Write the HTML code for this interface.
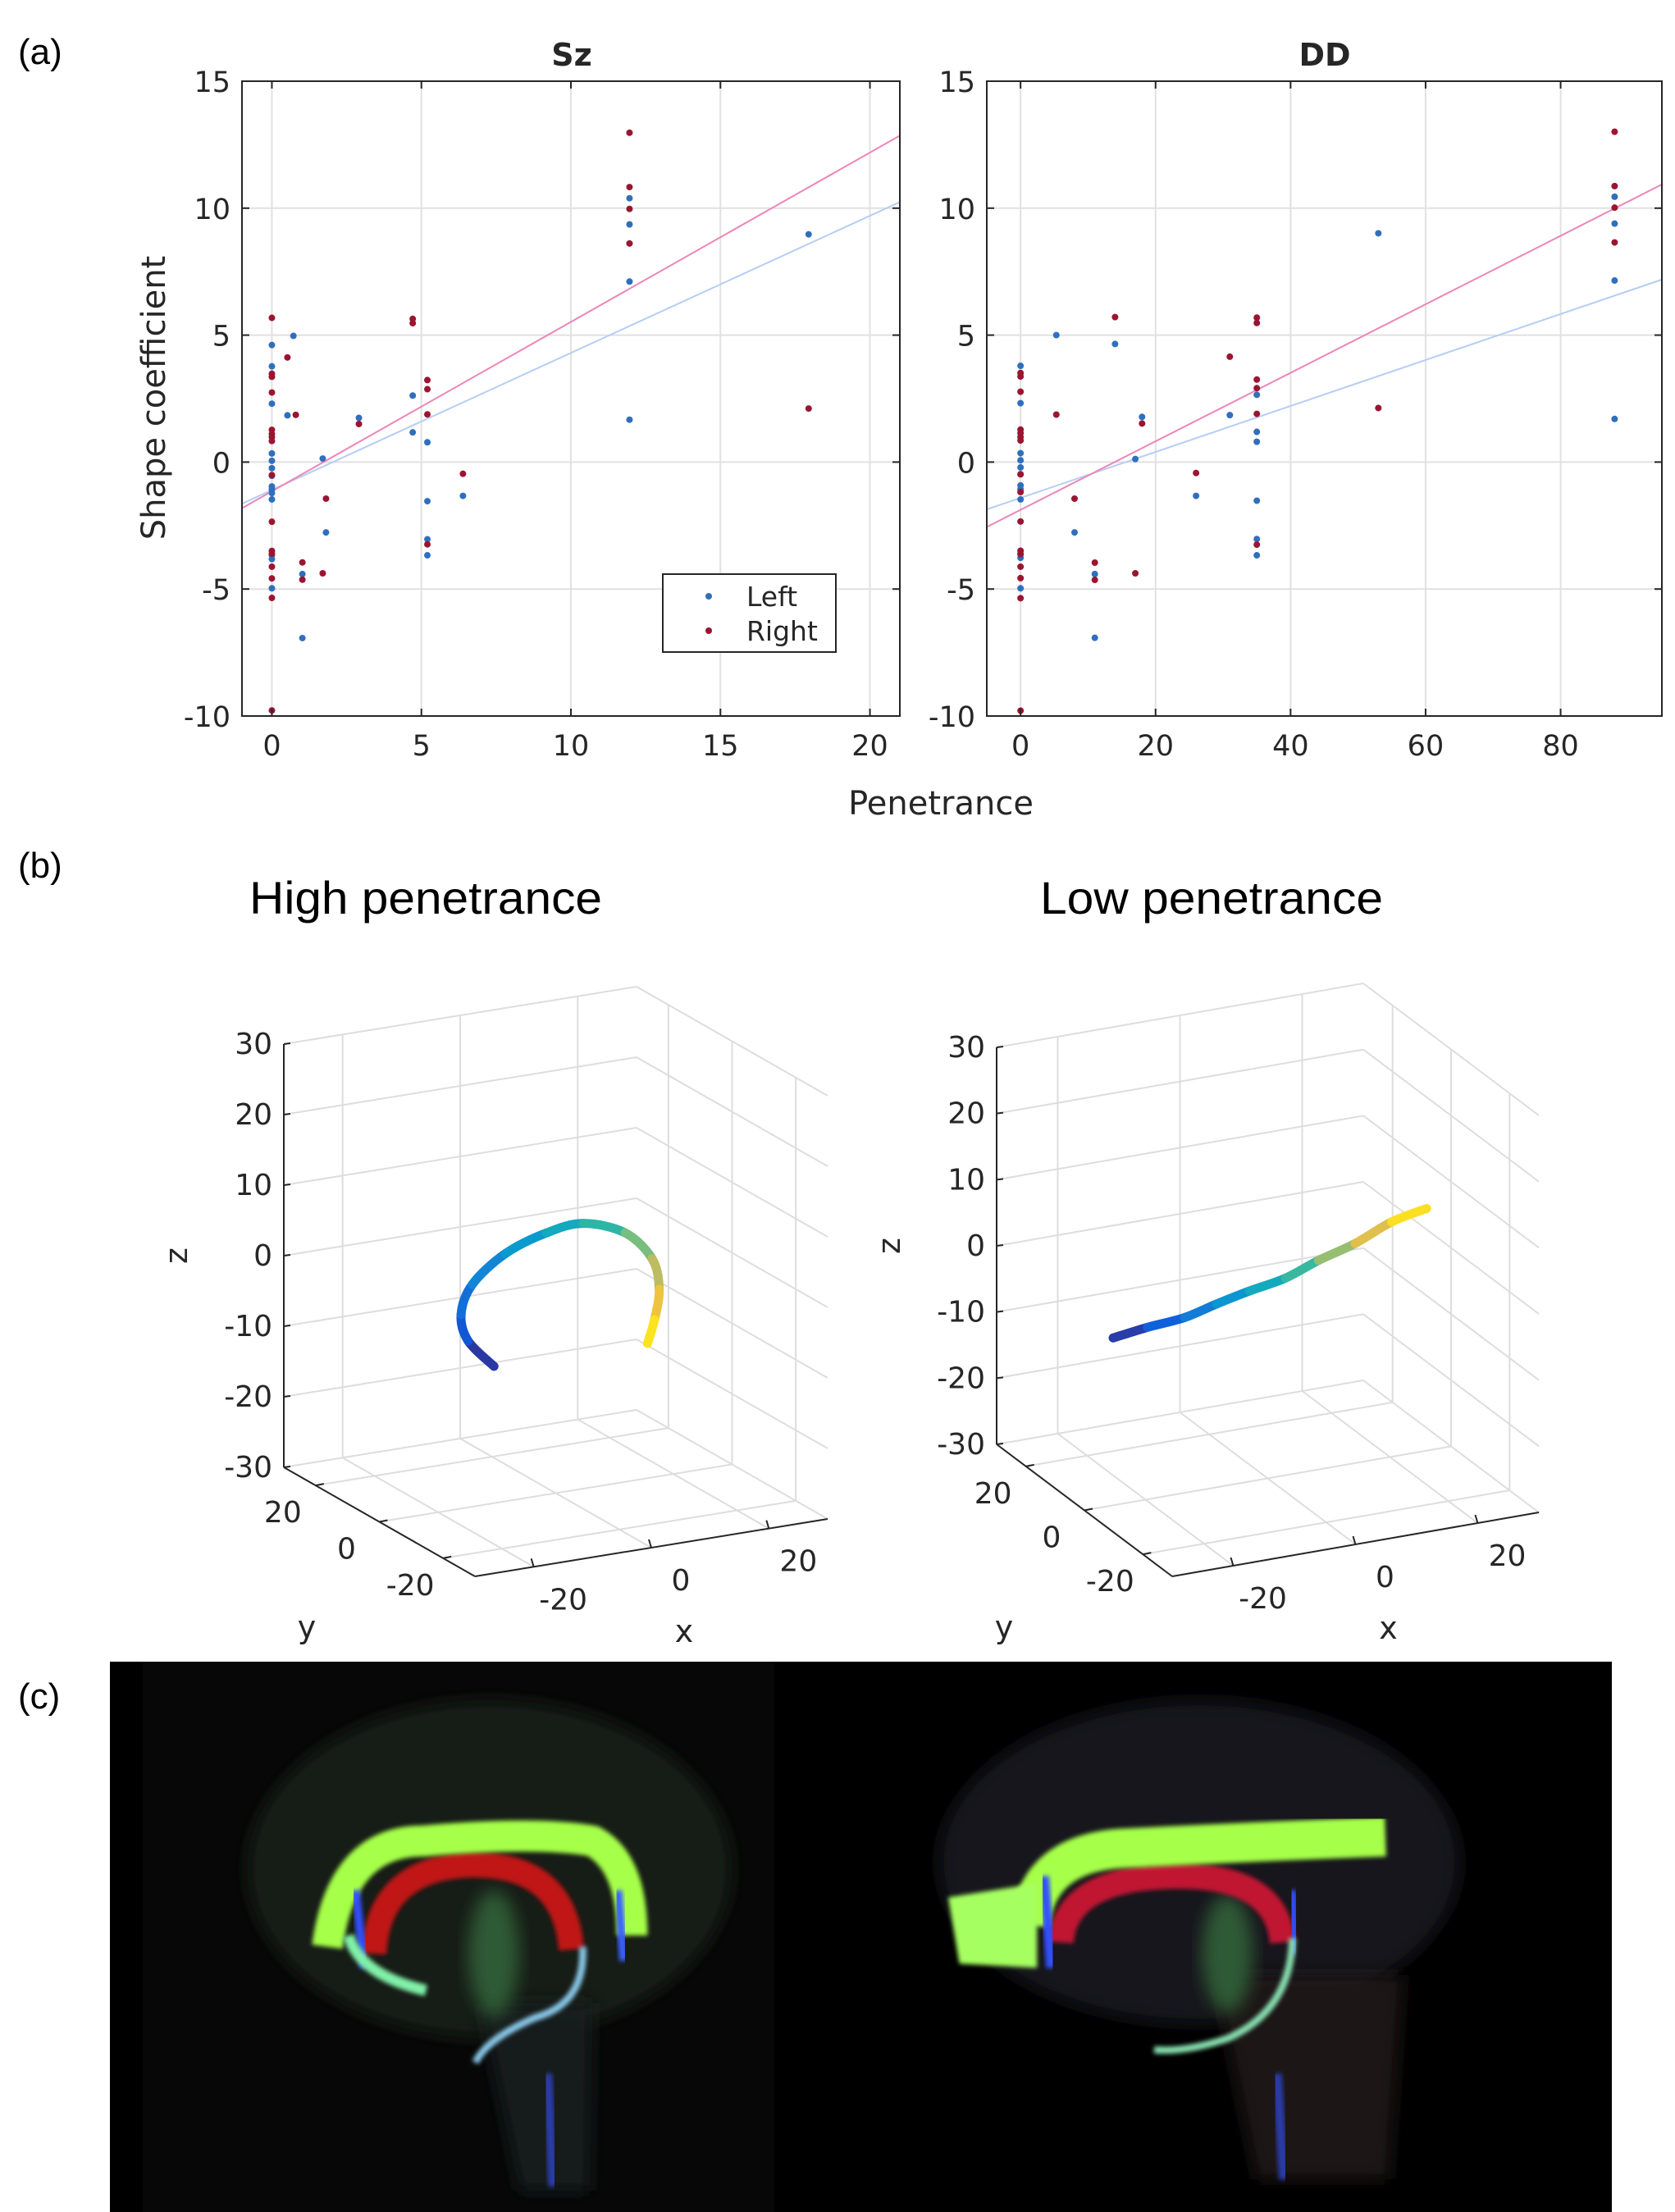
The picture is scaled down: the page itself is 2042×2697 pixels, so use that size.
<!DOCTYPE html>
<html><head><meta charset="utf-8">
<style>
html,body{margin:0;padding:0;background:#fff;}
svg{display:block;}
text{font-family:"DejaVu Sans","Liberation Sans",sans-serif;fill:#262626;}
.cal{font-family:"Liberation Sans",sans-serif;fill:#000;}
</style></head>
<body>
<svg id="fig" width="2042" height="2697" viewBox="0 0 2042 2697" xmlns="http://www.w3.org/2000/svg">
<defs>
 <filter id="blur6" x="-20%" y="-20%" width="140%" height="140%"><feGaussianBlur stdDeviation="6"/></filter>
 <filter id="blur3" x="-20%" y="-20%" width="140%" height="140%"><feGaussianBlur stdDeviation="1.5"/></filter>
</defs>
<text class="cal" x="22" y="78" font-size="44">(a)</text>
<text class="cal" x="22" y="1070" font-size="44">(b)</text>
<text class="cal" x="22" y="2083" font-size="44">(c)</text>
<text class="cal" x="304" y="1114" font-size="56" textLength="430" lengthAdjust="spacingAndGlyphs">High penetrance</text>
<text class="cal" x="1268" y="1114" font-size="56" textLength="418" lengthAdjust="spacingAndGlyphs">Low penetrance</text>
<text x="697" y="80" font-size="38" font-weight="bold" text-anchor="middle">Sz</text>
<text x="1615" y="80" font-size="38" font-weight="bold" text-anchor="middle">DD</text>
<text x="1147" y="993" font-size="40" text-anchor="middle">Penetrance</text>
<text x="0" y="0" font-size="40" text-anchor="middle" transform="translate(201,485) rotate(-90)">Shape coefficient</text>
<g id="szg"></g>
<g id="ddg"></g>
<g id="p3a"></g>
<g id="p3b"></g>

<g>
 <rect x="134" y="2026" width="1831" height="671" fill="#000"/>
 <rect x="174" y="2026" width="770" height="671" fill="#070707"/>
 <g transform="scale(1.72)">
  <g>
   <ellipse cx="347" cy="1325" rx="172" ry="120" fill="#141a12" filter="url(#blur6)"/>
   <path d="M340 1420 L420 1420 L418 1553 L368 1553 Z" fill="#151a1c" filter="url(#blur6)"/>
   <path d="M388 1470 L392 1550" stroke="#2a3aa8" stroke-width="7" filter="url(#blur3)"/>
   <ellipse cx="350" cy="1385" rx="18" ry="45" fill="#2e5a34" filter="url(#blur6)"/>
   <path d="M265 1385 Q268 1325 332 1322 Q400 1320 405 1382" stroke="#c01818" stroke-width="18" fill="none" filter="url(#blur3)"/>
   <path d="M232 1380 Q242 1305 300 1305 Q380 1298 420 1305 Q448 1320 448 1372" stroke="#a6ff48" stroke-width="22" fill="none" filter="url(#blur3)"/>
   <path d="M252 1340 L258 1395" stroke="#3050ff" stroke-width="6" filter="url(#blur3)"/>
   <path d="M247 1372 Q255 1400 302 1411" stroke="#80f0a8" stroke-width="8" fill="none" filter="url(#blur3)"/>
   <path d="M438 1340 L442 1390" stroke="#3a60ff" stroke-width="6" filter="url(#blur3)"/>
   <path d="M413 1380 Q415 1420 380 1430 Q345 1445 337 1462" stroke="#88c8e8" stroke-width="5" fill="none" filter="url(#blur3)"/>
  </g>
  <g>
   <ellipse cx="850" cy="1320" rx="185" ry="115" fill="#17161c" filter="url(#blur6)"/>
   <path d="M860 1400 L995 1400 L985 1545 L890 1545 Z" fill="#1c1414" filter="url(#blur6)"/>
   <path d="M905 1470 L910 1545" stroke="#2a3aa8" stroke-width="7" filter="url(#blur3)"/>
   <ellipse cx="870" cy="1385" rx="18" ry="42" fill="#2e5a34" filter="url(#blur6)"/>
   <path d="M752 1377 Q755 1332 830 1330 Q905 1328 909 1377" stroke="#c01830" stroke-width="18" fill="none" filter="url(#blur3)"/>
   <path d="M730 1365 Q735 1312 800 1310 Q900 1305 982 1302" stroke="#a6ff48" stroke-width="28" fill="none" filter="url(#blur3)"/>
   <path d="M672 1345 L735 1335 L735 1395 L680 1392 Z" fill="#a6ff60" filter="url(#blur3)"/>
   <path d="M740 1330 L745 1395" stroke="#3050ff" stroke-width="7" filter="url(#blur3)"/>
   <path d="M916 1340 L918 1385" stroke="#3050ff" stroke-width="6" filter="url(#blur3)"/>
   <path d="M916 1374 Q915 1425 870 1445 Q840 1455 818 1453" stroke="#88e0b0" stroke-width="5" fill="none" filter="url(#blur3)"/>
  </g>
 </g>
</g>
</svg>
<script>
// ---------- scatter data ----------
const szLeftX = [0,0,0,0,0,0,0,0,0,0,0,0,0,0,0.52,0.72,1.02,1.02,1.70,1.81,2.91,4.71,4.71,5.2,5.2,5.2,5.2,6.39,11.96,11.96,11.96,11.96,17.95];
const szLeftY = [4.61,3.77,2.30,0.34,0.05,-0.24,-0.54,-0.96,-1.08,-1.22,-1.47,-3.67,-3.82,-4.97,1.84,4.97,-4.41,-6.93,0.14,-2.77,1.74,2.62,1.17,0.78,-1.54,-3.04,-3.67,-1.33,10.39,9.36,7.11,1.67,8.97];
const szRightX = [0,0,0,0,0,0,0,0,0,0,0,0,0,0,0,0,0.52,0.8,1.02,1.02,1.81,1.70,2.91,4.71,4.71,5.2,5.2,5.2,5.2,6.39,11.96,11.96,11.96,11.96,17.95];
const szRightY = [5.68,3.48,3.36,2.74,1.27,1.11,0.98,0.83,-0.51,-2.35,-3.50,-3.61,-4.12,-4.58,-5.35,-9.78,4.12,1.86,-3.95,-4.63,-1.44,-4.38,1.50,5.64,5.47,3.23,2.87,1.88,-3.24,-0.46,12.97,10.83,9.97,8.61,2.11];
const ddLeftX = [0,0,0,0,0,0,0,0,0,0,0,0,0,5.3,14,8,11,11,17,18,26,31,35,35,35,35,35,35,53,88,88,88,88];
const ddLeftY = [3.79,2.32,0.35,0.07,-0.21,-0.48,-0.92,-1.06,-1.18,-1.47,-3.63,-3.77,-4.97,5.0,4.65,-2.77,-4.41,-6.92,0.12,1.78,-1.33,1.85,2.65,1.19,0.80,-1.52,-3.03,-3.67,9.01,10.45,9.39,7.15,1.70];
const ddRightX = [0,0,0,0,0,0,0,0,0,0,0,0,0,0,0,0,5.3,8,11,11,14,17,18,26,31,35,35,35,35,35,35,53,88,88,88,88];
const ddRightY = [3.51,3.37,2.77,1.28,1.14,0.99,0.85,-0.48,-1.18,-2.34,-3.49,-3.62,-4.12,-4.57,-5.36,-9.79,1.87,-1.44,-3.96,-4.64,5.71,-4.38,1.52,-0.43,4.15,5.69,5.48,3.25,2.91,1.90,-3.25,2.13,13.01,10.87,10.02,8.65];
const szFit = {leftSlope:0.54, leftIntercept:-1.1, rightSlope:0.667, rightIntercept:-1.15};
const ddFit = {leftSlope:0.0905, leftIntercept:-1.41, rightSlope:0.1349, rightIntercept:-1.88};
const yTicks = [-10,-5,0,5,10,15];
const szXTicks = [0,5,10,15,20];
const ddXTicks = [0,20,40,60,80];
const legendLabels = ["Left","Right"];

// ---------- 3D curve data ----------
const highX = [-10.5,-14.9,-16.1,-14.2,-8.6,-1.6,4.7,11.8,16.4,17.6,16.8,15.6];
const highY = [0,0,0,0,0,0,0,0,0,0,0,0];
const highZ = [-10.6,-6.4,-2.5,1.5,5.1,7.1,7.6,5.3,1.0,-3.5,-7.7,-10.9];
const lowX = [-25.3,-19.7,-13.6,-8.4,-3.0,2.9,8.3,14.3,20.3,26.0];
const lowY = [0,0,0,0,0,0,0,0,0,0];
const lowZ = [-4.7,-4.0,-3.5,-2.3,-1.2,-0.2,1.6,3.2,5.5,6.6];
const zTicks3 = [-30,-20,-10,0,10,20,30];
const xyTicks3 = [-20,0,20];

const NS = "http://www.w3.org/2000/svg";
function mk(parent, tag, attrs, txt){
  const e = document.createElementNS(NS, tag);
  for (const k in attrs) e.setAttribute(k, attrs[k]);
  if (txt !== undefined) e.textContent = txt;
  parent.appendChild(e);
  return e;
}
const BLUE = "#2f6fbd", RED = "#9b1530";

function scatter(g, box, xmin, xmax, xticks, lx, ly, rx, ry, fit, legend, prefix){
  const sx = v => box.l + (v - xmin) / (xmax - xmin) * (box.r - box.l);
  const sy = v => box.b - (v - (-10)) / 25 * (box.b - box.t);
  xticks.forEach(t => {
    const l = mk(g, "line", {x1:sx(t), x2:sx(t), y1:box.t, y2:box.b, stroke:"#e1e1e1", "stroke-width":2});
    
    
  });
  yTicks.forEach(t => {
    const l = mk(g, "line", {x1:box.l, x2:box.r, y1:sy(t), y2:sy(t), stroke:"#e1e1e1", "stroke-width":2});
    
    
  });
  const fl = mk(g, "line", {x1:sx(xmin), y1:sy(fit.leftIntercept + fit.leftSlope*xmin), x2:sx(xmax), y2:sy(fit.leftIntercept + fit.leftSlope*xmax), stroke:"#b6cdf5", "stroke-width":2});
  
  
  const fr = mk(g, "line", {x1:sx(xmin), y1:sy(fit.rightIntercept + fit.rightSlope*xmin), x2:sx(xmax), y2:sy(fit.rightIntercept + fit.rightSlope*xmax), stroke:"#ec86b8", "stroke-width":2});
  
  
  lx.forEach((x,i) => {
    const c = mk(g, "circle", {cx:sx(x), cy:sy(ly[i]), r:4, fill:BLUE});
    
    
  });
  rx.forEach((x,i) => {
    const c = mk(g, "circle", {cx:sx(x), cy:sy(ry[i]), r:4, fill:RED});
    
    
  });
  const bx = mk(g, "rect", {x:box.l, y:box.t, width:box.r-box.l, height:box.b-box.t, fill:"none", stroke:"#262626", "stroke-width":2});
  
  
  xticks.forEach(t => {
    mk(g, "line", {x1:sx(t), x2:sx(t), y1:box.b, y2:box.b-9, stroke:"#262626", "stroke-width":2});
    mk(g, "line", {x1:sx(t), x2:sx(t), y1:box.t, y2:box.t+9, stroke:"#262626", "stroke-width":2});
    const tl = mk(g, "text", {x:sx(t), y:box.b+48, "font-size":35, "text-anchor":"middle"}, String(t));
    
    
  });
  yTicks.forEach(t => {
    mk(g, "line", {x1:box.l, x2:box.l+9, y1:sy(t), y2:sy(t), stroke:"#262626", "stroke-width":2});
    mk(g, "line", {x1:box.r, x2:box.r-9, y1:sy(t), y2:sy(t), stroke:"#262626", "stroke-width":2});
    const tl = mk(g, "text", {x:box.l-14, y:sy(t)+13, "font-size":35, "text-anchor":"end"}, String(t));
    
    
  });
  if (legend){
    const lg = mk(g, "g", {});
    
    
    mk(lg, "rect", {x:808, y:700, width:211, height:95, fill:"#fff", stroke:"#262626", "stroke-width":2});
    const cols = [BLUE, RED];
    legendLabels.forEach((lab,i) => {
      const e = mk(lg, "g", {});
      
      
      mk(e, "circle", {cx:864, cy:727 + i*42, r:4, fill:cols[i]});
      mk(e, "text", {x:910, y:739 + i*42, "font-size":33, fill:"#000"}, lab);
    });
  }
}
scatter(document.getElementById("szg"), {l:295, r:1097, t:99, b:873}, -1, 21, szXTicks, szLeftX, szLeftY, szRightX, szRightY, szFit, true, "sz");
scatter(document.getElementById("ddg"), {l:1203, r:2026, t:99, b:873}, -5, 95, ddXTicks, ddLeftX, ddLeftY, ddRightX, ddRightY, ddFit, false, "dd");

// ---------- 3D plots ----------
const parula = [[0,[53,42,135]],[0.15,[15,92,221]],[0.3,[20,129,214]],[0.45,[6,164,202]],[0.6,[46,183,164]],[0.7,[135,191,119]],[0.8,[209,187,89]],[0.9,[254,200,50]],[1,[249,251,14]]];
function pcol(t){
  for (let i=1;i<parula.length;i++){
    if (t <= parula[i][0]){
      const a = parula[i-1], b = parula[i];
      const f = (t - a[0]) / (b[0] - a[0]);
      const c = a[1].map((v,k) => Math.round(v + (b[1][k]-v)*f));
      return "rgb(" + c.join(",") + ")";
    }
  }
  return "rgb(249,251,14)";
}
function plot3(g, P, cx, cy, cz, prefix){
  const proj = (x,y,z) => [P.F[0] + (x+30)/60*P.xd[0] + (y+30)/60*P.yd[0],
                           P.F[1] + (x+30)/60*P.xd[1] + (y+30)/60*P.yd[1] - (z+30)/60*P.zh];
  const ln = (a,b,col,w,name) => {
    const l = mk(g, "line", {x1:a[0], y1:a[1], x2:b[0], y2:b[1], stroke:col, "stroke-width":w});
    
    
    return l;
  };
  const GC = "#dddddd";
  xyTicks3.forEach(t => {
    ln(proj(t,-30,-30), proj(t,30,-30), GC, 2, prefix + '-floor-gridline');
    ln(proj(-30,t,-30), proj(30,t,-30), GC, 2, prefix + '-floor-gridline');
  });
  zTicks3.forEach(t => {
    ln(proj(-30,30,t), proj(30,30,t), GC, 2, prefix + '-z-gridline');
    ln(proj(30,30,t), proj(30,-30,t), GC, 2, prefix + '-z-gridline');
  });
  xyTicks3.forEach(t => {
    ln(proj(t,30,-30), proj(t,30,30), GC, 2, prefix + '-x-wall-gridline');
    ln(proj(30,t,-30), proj(30,t,30), GC, 2, prefix + '-y-wall-gridline');
  });
  ln(proj(-30,30,-30), proj(-30,30,30), "#262626", 2, prefix + '-z-axis');
  ln(proj(-30,30,-30), proj(-30,-30,-30), "#262626", 2, prefix + '-y-axis');
  ln(proj(-30,-30,-30), proj(30,-30,-30), "#262626", 2, prefix + '-x-axis');
  zTicks3.forEach(t => {
    const p = proj(-30,30,t);
    ln(p, [p[0]+8,p[1]-1], "#262626", 2, prefix + '-z-tick');
    const tl = mk(g, "text", {x:p[0]-14, y:p[1]+12, "font-size":36, "text-anchor":"end"}, String(t));
    
    
  });
  xyTicks3.forEach(t => {
    const p = proj(t,-30,-30);
    ln(p, [p[0]-3,p[1]-10], "#262626", 2, prefix + '-x-tick');
    const tl = mk(g, "text", {x:p[0]+36, y:p[1]+52, "font-size":36, "text-anchor":"middle"}, String(t));
    
    
    const q = proj(-30,t,-30);
    ln(q, [q[0]+10,q[1]-2], "#262626", 2, prefix + '-y-tick');
    const yl = mk(g, "text", {x:q[0]-40, y:q[1]+45, "font-size":36, "text-anchor":"middle"}, String(t));
    
    
  });
  const zA = proj(-30,30,0);
  const zl = mk(g, "text", {x:0, y:0, "font-size":38, "text-anchor":"middle", transform:"translate(" + (zA[0]-118) + "," + (zA[1]) + ") rotate(-90)"}, "z");
  
  
  const yA = proj(-30,-30,-30);
  const yl2 = mk(g, "text", {x:yA[0]-205, y:yA[1]+75, "font-size":38, "text-anchor":"middle"}, "y");
  
  
  const xA = proj(0,-30,-30);
  const xl = mk(g, "text", {x:xA[0]+40, y:xA[1]+115, "font-size":38, "text-anchor":"middle"}, "x");
  
  
  // smooth curve (Catmull-Rom segments)
  const n = cx.length;
  const pts = cx.map((x,i) => proj(x, cy[i], cz[i]));
  for (let i=0;i<n-1;i++){
    const p0 = pts[Math.max(0,i-1)], p1 = pts[i], p2 = pts[i+1], p3 = pts[Math.min(n-1,i+2)];
    const c1 = [p1[0] + (p2[0]-p0[0])/6, p1[1] + (p2[1]-p0[1])/6];
    const c2 = [p2[0] - (p3[0]-p1[0])/6, p2[1] - (p3[1]-p1[1])/6];
    const s = mk(g, "path", {d:"M"+p1[0]+" "+p1[1]+" C"+c1[0]+" "+c1[1]+" "+c2[0]+" "+c2[1]+" "+p2[0]+" "+p2[1], fill:"none", stroke:pcol((i+0.5)/(n-1)), "stroke-width":11, "stroke-linecap":"round"});
    
    
  }
}
plot3(document.getElementById("p3a"), {F:[579,1922], xd:[430,-70], yd:[-233,-133], zh:516}, highX, highY, highZ, "high");
plot3(document.getElementById("p3b"), {F:[1429,1922], xd:[447,-78], yd:[-214,-161], zh:484}, lowX, lowY, lowZ, "low");
</script>
</body></html>
